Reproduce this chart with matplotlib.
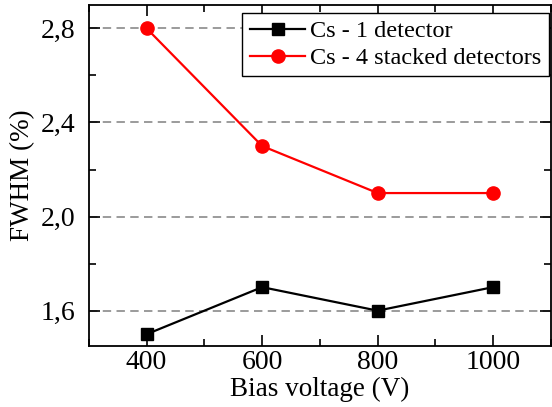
import matplotlib
matplotlib.use('Agg')
import matplotlib.pyplot as plt
from matplotlib.ticker import FuncFormatter, MultipleLocator

plt.rc('font', family='Liberation Serif', size=20)

bias = [400, 600, 800, 1000]
fwhm_single = [1.5, 1.7, 1.6, 1.7]
fwhm_stacked = [2.8, 2.3, 2.1, 2.1]
labels = ['Cs - 1 detector', 'Cs - 4 stacked detectors']

fig = plt.figure(figsize=(5.52, 4.07), dpi=100)
ax = fig.add_axes([0.161, 0.150, 0.837, 0.838])

ax.plot(bias, fwhm_single, color='black', marker='s', markersize=8.5,
        linewidth=1.6, label=labels[0], zorder=3)
ax.plot(bias, fwhm_stacked, color='red', marker='o', markersize=9.5,
        linewidth=1.6, label=labels[1], zorder=3)

ax.set_xlim(300, 1100)
ax.set_ylim(1.45, 2.9)
ax.xaxis.set_major_locator(MultipleLocator(200))
ax.xaxis.set_minor_locator(MultipleLocator(100))
ax.yaxis.set_major_locator(MultipleLocator(0.4))
ax.yaxis.set_minor_locator(MultipleLocator(0.2))
ax.yaxis.set_major_formatter(FuncFormatter(lambda v, p: f'{v:.1f}'.replace('.', ',')))
ax.tick_params(which='both', direction='in', top=True, right=True, width=1.2)
ax.tick_params(which='major', length=8)
ax.tick_params(which='minor', length=5)
ax.tick_params(axis='x', which='major', pad=3)
ax.tick_params(axis='y', which='major', pad=10)
for s in ax.spines.values():
    s.set_linewidth(1.3)

ax.grid(axis='y', which='major', color='#808080', linestyle=(0, (5.5, 3.5)), linewidth=1.1)
ax.set_axisbelow(True)

ax.set_xlabel('Bias voltage (V)', fontsize=19.5, labelpad=1)
ax.set_ylabel('FWHM (%)', fontsize=19.5, labelpad=4)

leg = ax.legend(loc='upper right', bbox_to_anchor=(1 - 2 / 462, 1 - 8 / 341),
                borderaxespad=0, fancybox=False, framealpha=1, edgecolor='black',
                fontsize=17.5, handlelength=2.3, borderpad=0.3, labelspacing=0.2,
                handletextpad=0.2)
leg.get_frame().set_linewidth(1.0)

fig.savefig('out.png', dpi=100)
